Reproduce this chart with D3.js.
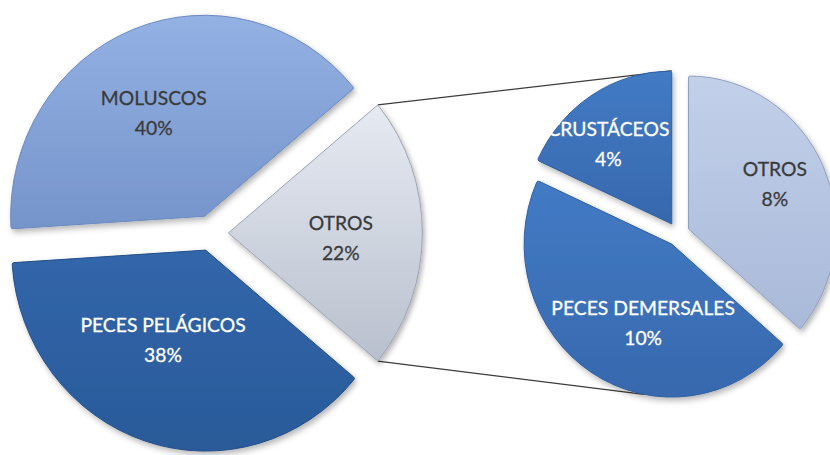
<!DOCTYPE html>
<html>
<head>
<meta charset="utf-8">
<script src="https://cdn.jsdelivr.net/npm/d3@7"></script>
<style>
  body { margin: 0; background: #fff; }
  svg { display: block; }
  .lbl { font-family: Lato, "Open Sans", sans-serif; font-size: 20px; stroke-width: 0.3px; }
</style>
</head>
<body>
<script>

// main pie (left)
var mainCategories = ["OTROS", "PECES PELÁGICOS", "MOLUSCOS"];
var mainValues = [22, 38, 40];

// breakdown of OTROS (right pie)
var subCategories = ["OTROS", "PECES DEMERSALES", "CRUSTÁCEOS"];
var subValues = [8, 10, 4];

var w = 830, h = 455;

var svg = d3.select("body")
  .append("svg")
    .attr("width", w)
    .attr("height", h);

var defs = svg.append("defs");

// soft shadow under the slices
var shadow = defs.append("filter")
    .attr("id", "shadow")
    .attr("x", "-20%").attr("y", "-20%")
    .attr("width", "140%").attr("height", "140%");
shadow.append("feDropShadow")
    .attr("dx", 2).attr("dy", 3)
    .attr("stdDeviation", 3)
    .attr("flood-color", "#000")
    .attr("flood-opacity", 0.3);

// gradients, light at top -> darker at bottom
function addGrad(id, top, bottom) {
  var g = defs.append("linearGradient")
      .attr("id", id)
      .attr("x1", 0).attr("y1", 0)
      .attr("x2", 0).attr("y2", 1);
  g.append("stop").attr("offset", "0%").attr("stop-color", top);
  g.append("stop").attr("offset", "100%").attr("stop-color", bottom);
}

addGrad("g-moluscos", "#93b1e3", "#7594ca");
addGrad("g-pelagicos", "#3166aa", "#2a5a99");
addGrad("g-otros1", "#e6eaf2", "#b9c0cd");
addGrad("g-otros2", "#c2d0ea", "#a9b9d8");
addGrad("g-blue", "#427bc4", "#3768ae");

var mainStyle = {
  "OTROS":           { fill: "url(#g-otros1)",   stroke: "#9aa2b2", text: "#3a3a3a" },
  "PECES PELÁGICOS": { fill: "url(#g-pelagicos)", stroke: "#244f88", text: "#ffffff" },
  "MOLUSCOS":        { fill: "url(#g-moluscos)", stroke: "#6a89bf", text: "#3a3a3a" }
};
var subStyle = {
  "OTROS":            { fill: "url(#g-otros2)", stroke: "#8e9fc0", text: "#3a3a3a" },
  "PECES DEMERSALES": { fill: "url(#g-blue)",   stroke: "#2f5f9f", text: "#ffffff" },
  "CRUSTÁCEOS":       { fill: "url(#g-blue)",   stroke: "#2f5f9f", text: "#ffffff" }
};

// pie layouts
var mainData = mainCategories.map(function(c, i) { return { name: c, value: mainValues[i] }; });
var subData = subCategories.map(function(c, i) { return { name: c, value: subValues[i] }; });

var mainTotal = d3.sum(mainValues);
var splitShare = mainValues[0] / mainTotal;
var mainStart = Math.PI / 2 - Math.PI * splitShare;   // OTROS centred at 3 o'clock

var mainPie = d3.pie()
  .sort(null)
  .value(function(d) { return d.value; })
  .startAngle(mainStart)
  .endAngle(mainStart + 2 * Math.PI);

var subPie = d3.pie()
  .sort(null)
  .value(function(d) { return d.value; })
  .startAngle(0)
  .endAngle(2 * Math.PI);

// the original picture is a little squeezed horizontally (sx)
var left = { cx: 211, cy: 233, r: 201, explode: 18, labelR: 0.55, sx: 0.965 };
var right = { cx: 678, cy: 234, r: 153, explode: 12, labelR: 0.6, sx: 0.965 };

// small label nudges (px) to match the placement in the original
var nudge = {
  "main-MOLUSCOS": [-12, 0],
  "main-PECES PELÁGICOS": [-10, -15],
  "main-OTROS": [6, 5],
  "sub-CRUSTÁCEOS": [-16, -3],
  "sub-OTROS": [6, -7],
  "sub-PECES DEMERSALES": [20, 2]
};

function midAngle(d) { return (d.startAngle + d.endAngle) / 2; }

function offset(d, pad) {
  var a = midAngle(d);
  return [pad.explode * Math.sin(a), -pad.explode * Math.cos(a)];
}

function pointOn(d, pad, angle) {
  var o = offset(d, pad);
  return [pad.cx + pad.sx * (o[0] + pad.r * Math.sin(angle)),
          pad.cy + o[1] - pad.r * Math.cos(angle)];
}

var mainArcs = mainPie(mainData);
var subArcs = subPie(subData);

// connector lines between the OTROS slice and the second pie
var otrosArc = mainArcs[0];
var crustArc = subArcs[2];
var demArc = subArcs[1];

var p1 = pointOn(otrosArc, left, otrosArc.startAngle);
var p2 = pointOn(crustArc, right, 0);
var p3 = pointOn(otrosArc, left, otrosArc.endAngle);
var p4 = pointOn(demArc, right, Math.PI * 1.06);

svg.append("g")
    .selectAll("line")
    .data([[p1, p2], [p3, p4]])
    .enter()
  .append("line")
    .attr("x1", function(d) { return d[0][0]; })
    .attr("y1", function(d) { return d[0][1]; })
    .attr("x2", function(d) { return d[1][0]; })
    .attr("y2", function(d) { return d[1][1]; })
    .attr("stroke", "#3c3c3c")
    .attr("stroke-width", 1.2);

function drawPie(arcs, pad, style, key) {
  var arc = d3.arc()
    .innerRadius(0)
    .outerRadius(pad.r)
    .cornerRadius(2);

  var labelArc = d3.arc()
    .innerRadius(pad.r * pad.labelR)
    .outerRadius(pad.r * pad.labelR);

  var g = svg.append("g")
      .attr("transform", "translate(" + pad.cx + "," + pad.cy + ") scale(" + pad.sx + ",1)");

  var slice = g.selectAll("g.slice")
      .data(arcs)
      .enter()
    .append("g")
      .attr("class", "slice")
      .attr("transform", function(d) {
        var o = offset(d, pad);
        return "translate(" + o[0] + "," + o[1] + ")";
      });

  slice.append("path")
      .attr("d", arc)
      .attr("fill", function(d) { return style[d.data.name].fill; })
      .attr("stroke", function(d) { return style[d.data.name].stroke; })
      .attr("stroke-width", 1)
      .attr("filter", "url(#shadow)");

  var txt = slice.append("text")
      .attr("class", "lbl")
      .attr("text-anchor", "middle")
      .attr("fill", function(d) { return style[d.data.name].text; })
      .attr("stroke", function(d) { return style[d.data.name].text; })
      .attr("transform", function(d) {
        var c = labelArc.centroid(d);
        var n = nudge[key + "-" + d.data.name] || [0, 0];
        return "translate(" + (c[0] + n[0]) + "," + (c[1] + n[1]) + ")";
      });

  txt.append("tspan")
      .attr("x", 0)
      .attr("y", -8)
      .text(function(d) { return d.data.name; });

  txt.append("tspan")
      .attr("x", 0)
      .attr("y", 22)
      .text(function(d) {
        return Math.round(d.data.value) + "%";
      });
}

drawPie(mainArcs, left, mainStyle, "main");
drawPie(subArcs, right, subStyle, "sub");

</script>
</body>
</html>
